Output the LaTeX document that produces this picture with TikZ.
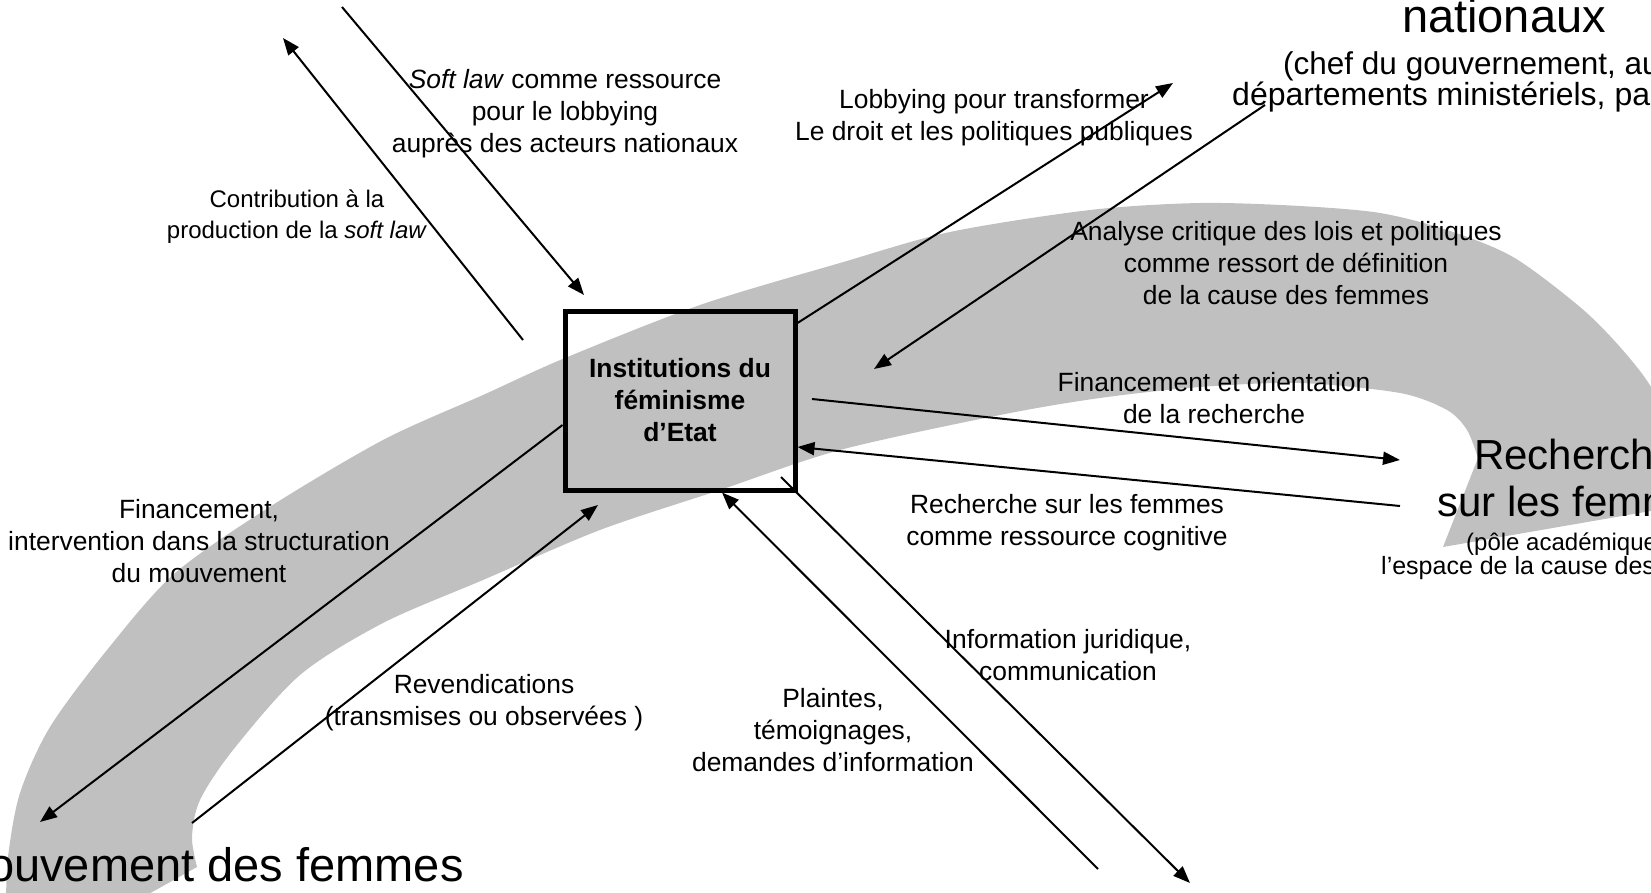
\documentclass[tikz,border=0pt]{standalone}
\usepackage{fontspec}
\setmainfont{Liberation Sans}
\usetikzlibrary{arrows.meta}
\definecolor{bandgray}{RGB}{192,192,192}
\begin{document}
\begin{tikzpicture}[x=1pt,y=-1pt,
  lbl/.style={align=center,inner sep=0pt,font=\fontsize{26.4}{32}\selectfont},
  lblsmall/.style={align=center,inner sep=0pt,font=\fontsize{24}{30.5}\selectfont},
  bigtxt/.style={inner sep=0pt,font=\fontsize{47}{52}\selectfont},
  rechtxt/.style={inner sep=0pt,font=\fontsize{42}{50}\selectfont},
  subtxt/.style={inner sep=0pt,font=\fontsize{31.5}{35}\selectfont},
  smalltxt/.style={inner sep=0pt,font=\fontsize{24}{26}\selectfont},
  conn/.style={line width=2pt,-{Triangle[length=17pt,width=13pt]}}]
\path[use as bounding box] (0,0) rectangle (1651,893);
\clip (0,0) rectangle (1651,893);
% grey curved arrow band
\fill[bandgray] plot[smooth,tension=0.5] coordinates {(6,905) (8,857) (20,793) (50,727) (107,650) (174,574) (268,508) (383,440) (483,395) (565,358) (700,305) (840,263) (950,232) (1090,210) (1200,203) (1300,206) (1380,213) (1447,230) (1513,257) (1580,307) (1620,347) (1651,387) (1675,440) (1697,503)}
  -- (1443,547)
  -- plot[smooth,tension=0.5] coordinates {(1478,458) (1467,430) (1447,410) (1400,393) (1300,383) (1200,387) (1100,398) (1000,415) (840,450) (720,490) (600,530) (483,580) (383,623) (300,675) (233,750) (200,800) (192,837) (197,867)}
  -- (120,910) -- cycle;
% central box
\node[draw,line width=5pt,minimum width=230pt,minimum height=179pt,inner sep=0pt,align=center,
  font=\bfseries\fontsize{26.4}{32}\selectfont] (inst) at (680,400.5) {Institutions du\\féminisme\\d’Etat};
% connector end points
\coordinate (slA) at (342,7);    \coordinate (slB) at (584,295);
\coordinate (ctA) at (523,340);  \coordinate (ctB) at (283,38);
\coordinate (lbA) at ([yshift=-14.5pt]inst.north east); \coordinate (lbB) at (1173,83);
\coordinate (anA) at (1265,105); \coordinate (anB) at (874,369);
\coordinate (foA) at (812,399);  \coordinate (foB) at (1400,460);
\coordinate (rfA) at (1400,506); \coordinate (rfB) at ([yshift=-46.5pt]inst.east);
\coordinate (ijA) at (781,477);  \coordinate (ijB) at (1190,883);
\coordinate (plA) at (1098,869); \coordinate (plB) at ([xshift=42pt]inst.south);
\coordinate (rvA) at (192,823);  \coordinate (rvB) at (598,505);
\coordinate (fiA) at ([yshift=-24.5pt]inst.west); \coordinate (fiB) at (40,822);
% connectors
\draw[conn] (slA) -- (slB);
\draw[conn] (ctA) -- (ctB);
\draw[conn] (lbA) -- (lbB);
\draw[conn] (anA) -- (anB);
\draw[conn] (foA) -- (foB);
\draw[conn] (rfA) -- (rfB);
\draw[conn] (ijA) -- (ijB);
\draw[conn] (plA) -- (plB);
\draw[conn] (rvA) -- (rvB);
\draw[conn] (fiA) -- (fiB);
% labels
\node[lbl] (lSoft) at (565,113.5) {\textit{Soft law} comme ressource\\pour le lobbying\\auprès des acteurs nationaux};
\node[lblsmall] (lContrib) at (297,216.5) {Contribution à la\\production de la \textit{soft law}};
\node[lbl] (lLobby) at (994,118) {Lobbying pour transformer\\Le droit et les politiques publiques};
\node[lbl] (lAnalyse) at (1286,263) {Analyse critique des lois et politiques\\comme ressort de définition\\de la cause des femmes};
\node[lbl] (lFinOr) at (1214,398) {Financement et orientation\\de la recherche};
\node[lbl] (lRech) at (1067,523) {Recherche sur les femmes\\comme ressource cognitive};
\node[lbl] (lFin) at (199,541) {Financement,\\intervention dans la structuration\\du mouvement};
\node[lbl] (lRev) at (484,703) {Revendications\\(transmises ou observées )};
\node[lbl] (lPl) at (833,730) {Plaintes,\\témoignages,\\demandes d’information};
\node[lbl] (lInfo) at (1068,655) {Information juridique,\\communication};
% poles (cut by the frame)
\node[bigtxt,anchor=base] (tNat) at (1504,33) {nationaux};
\node[subtxt,anchor=base west] (tChef1) at (1283,75) {(chef du gouvernement, au};
\node[subtxt,anchor=base west,font=\fontsize{32}{35}\selectfont] (tChef2) at (1232,106) {départements ministériels, pa};
\node[rechtxt,anchor=base west] (tRech1) at (1474,469) {Recherch};
\node[rechtxt,anchor=base west] (tRech2) at (1437,516) {sur les femm};
\node[smalltxt,anchor=base west] (tPole1) at (1466,550) {(pôle académique};
\node[smalltxt,anchor=base west,font=\fontsize{25}{28}\selectfont] (tPole2) at (1381,574) {l’espace de la cause des};
\node[bigtxt,anchor=base west] (tMouv) at (-12,881) {ouvement des femmes};
\end{tikzpicture}
\end{document}
